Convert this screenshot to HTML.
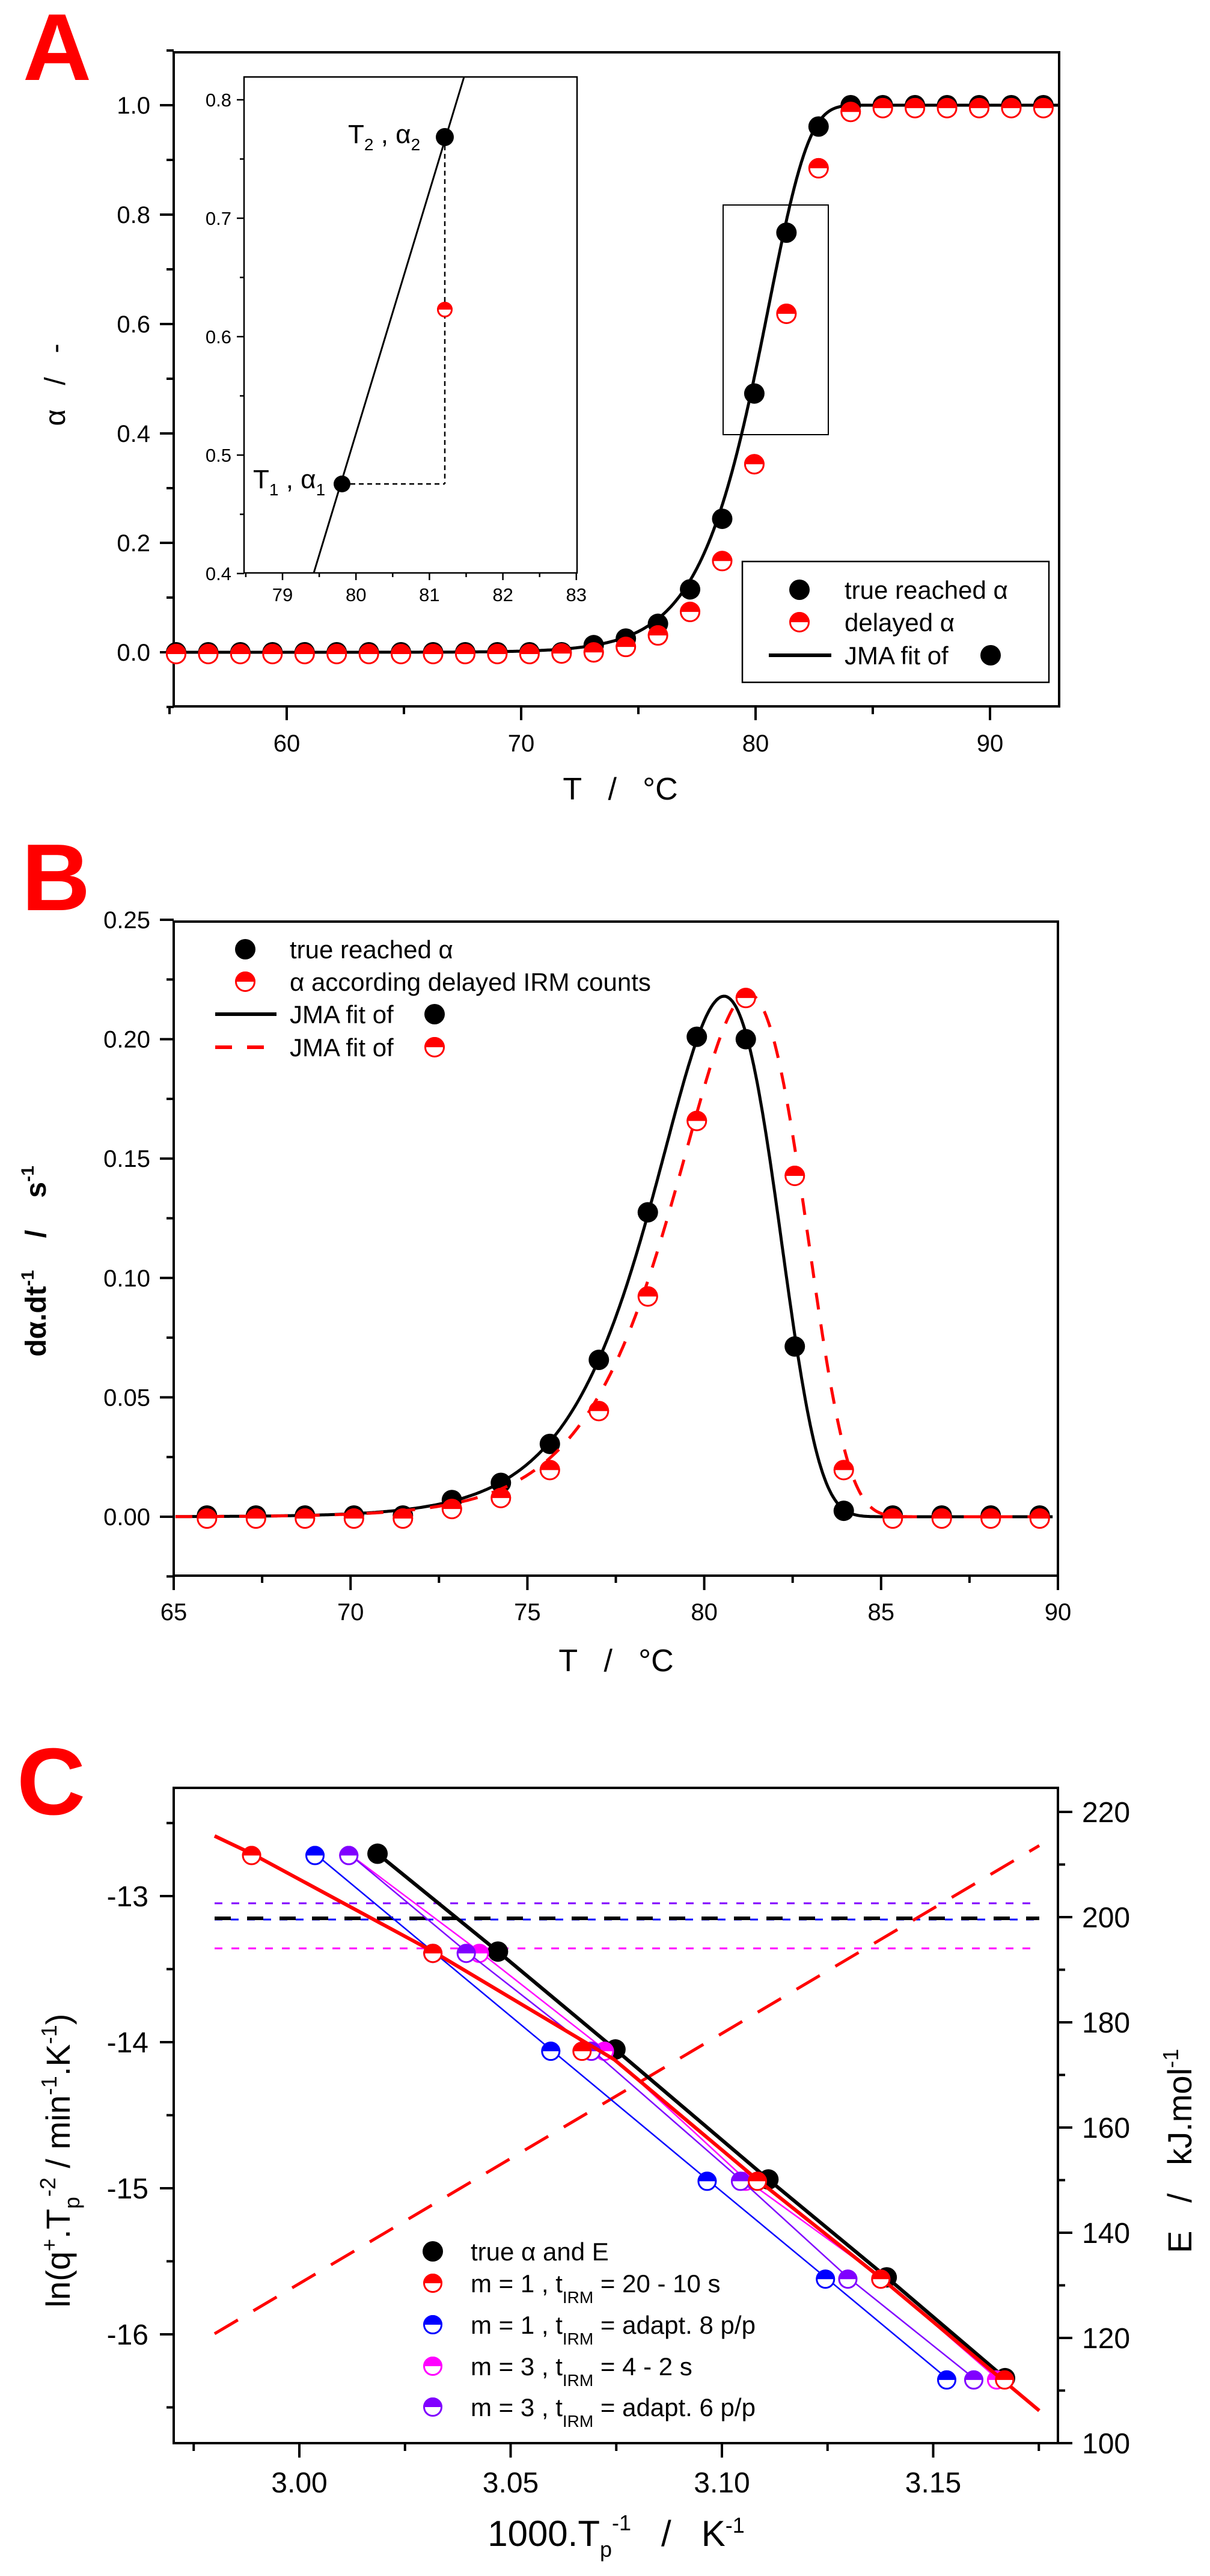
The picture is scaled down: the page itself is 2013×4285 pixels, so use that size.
<!DOCTYPE html>
<html><head><meta charset="utf-8">
<style>
html,body{margin:0;padding:0;background:#fff;}
svg{display:block;font-family:"Liberation Sans",Arial,sans-serif;}
</style></head>
<body>
<svg id="s" width="2013" height="4285" viewBox="0 0 2013 4285" xmlns="http://www.w3.org/2000/svg">
<rect width="2013" height="4285" fill="#fff"/>
<text x="38" y="133" font-size="158" font-weight="bold" fill="#f00">A</text>
<text x="36" y="1514" font-size="158" font-weight="bold" fill="#f00">B</text>
<text x="28" y="3018" font-size="158" font-weight="bold" fill="#f00">C</text>
<g id="g"></g>
</svg>
<script>
var o=[];
function L(x1,y1,x2,y2,c,w,d){o.push('<line x1="'+x1+'" y1="'+y1+'" x2="'+x2+'" y2="'+y2+'" stroke="'+c+'" stroke-width="'+w+'"'+(d?' stroke-dasharray="'+d+'"':'')+'/>');}
function T(x,y,s,fs,a,extra){o.push('<text x="'+x+'" y="'+y+'" font-size="'+fs+'" text-anchor="'+(a||'start')+'" '+(extra||'')+'>'+s+'</text>');}
function P(pts,c,w,d){var s='M'+pts.map(function(p){return p[0].toFixed(1)+','+p[1].toFixed(1)}).join(' L');o.push('<path d="'+s+'" fill="none" stroke="'+c+'" stroke-width="'+w+'" stroke-linejoin="round"'+(d?' stroke-dasharray="'+d+'"':'')+'/>');}
function F(x,y,r,c){o.push('<circle cx="'+x+'" cy="'+y+'" r="'+r+'" fill="'+c+'"/>');}
function H(x,y,r,c){o.push('<circle cx="'+x+'" cy="'+y+'" r="'+(r-1.5)+'" fill="#fff" stroke="'+c+'" stroke-width="3"/>');
 o.push('<path d="M'+(x-r)+','+y+' A'+r+','+r+' 0 0 1 '+(x+r)+','+y+' Z" fill="'+c+'"/>');}
function R(x1,y1,x2,y2,w){o.push('<rect x="'+x1+'" y="'+y1+'" width="'+(x2-x1)+'" height="'+(y2-y1)+'" fill="none" stroke="#000" stroke-width="'+w+'"/>');}

/* ========== PANEL A ========== */
var xa=function(t){return 1257+(t-80)*39;}, ya=function(a){return 1085-a*910;};
R(289,87,1762,1175,4);
for(var v=-0.1;v<=1.101;v+=0.1){var y=ya(v),maj=Math.abs(Math.round(v*10)%2)==0;L(maj?266:277,y,289,y,'#000',4);
 if(maj){T(250,y+14,v.toFixed(1),40,'end');}}
for(var t=55;t<=90;t+=5){var x=xa(t),maj=t%10==0;L(x,1175,x,maj?1198:1188,'#000',4);if(maj)T(x,1250,t,40,'middle');}
T(1032,1330,'T&#160;&#160;&#160;/&#160;&#160;&#160;°C',52,'middle');
T(0,0,'α&#160;&#160;&#160;/&#160;&#160;&#160;-',48,'middle','transform="translate(108,640) rotate(-90)"');
// JMA curve
var pa=[];for(var t=55.1;t<=92.9;t+=0.05){pa.push([xa(t),ya(1-Math.exp(-Math.exp(0.585*(t-80.56))))]);}
var ptsx=[];for(var i=0;i<28;i++)ptsx.push(293+53.44*i);
var redA={12:0.001,13:0.003,14:0.013,15:0.034,16:0.077,17:0.17,18:0.347,19:0.622,20:0.888,21:0.991};
var blkA={13:0.013,14:0.025,15:0.052,16:0.115,17:0.244,18:0.473,19:0.767,20:0.961,21:1.0};
for(var i=0;i<28;i++){var a=blkA[i]!==undefined?blkA[i]:(i<13?0:1.0);F(ptsx[i],ya(a),17,'#000');}
P(pa,'#000',5);
for(var i=0;i<28;i++){var a=redA[i]!==undefined?redA[i]:(i<12?0:0.998);H(ptsx[i],ya(a)+3,17,'#f00');}
// zoom rect
R(1203,341,1378,723,2);
// inset
o.push('<rect x="406" y="128" width="554" height="825" fill="#fff" stroke="#000" stroke-width="2.5"/>');
var yi=function(v){return 166+(0.8-v)*1970;}, xi=function(t){return 470+(t-79)*122.2;};
for(var k=0;k<=8;k++){var v=0.4+k*0.05,y=yi(v);L(k%2==0?394:399,y,406,y,'#000',2.5);if(k%2==0)T(385,y+11,v.toFixed(1),31,'end');}
for(var k=-1;k<=8;k++){var t=79+k*0.5,x=xi(t);if(x<406)continue;L(x,953,x,k%2==0?965:960,'#000',2.5);if(k%2==0)T(x,1000,t,31,'middle');}
L(522,953,772,128,'#000',3);
L(569,805,740,805,'#000',2.5,'8,6');L(740,228,740,805,'#000',2.5,'8,6');
F(569,805,14,'#000');F(740,228,15,'#000');H(740,515,13,'#f00');
T(421,812,'T<tspan font-size="28" dy="12">1</tspan><tspan dy="-12"> , α</tspan><tspan font-size="28" dy="12">1</tspan>',44,'start');
T(579,238,'T<tspan font-size="28" dy="12">2</tspan><tspan dy="-12"> , α</tspan><tspan font-size="28" dy="12">2</tspan>',44,'start');
// legend A
R(1235,934,1745,1135,2.5);
F(1330,981,17,'#000');H(1330,1035,17,'#f00');L(1279,1090,1383,1090,'#000',6);F(1648,1090,17,'#000');
T(1405,996,'true reached α',42);T(1405,1050,'delayed α',42);T(1405,1105,'JMA fit of',42);

/* ========== PANEL B ========== */
var xb=function(t){return 289+(t-65)*58.84;}, yb=function(v){return 2523-v*3972;};
R(289,1533,1760,2621,4);
for(var k=-1;k<=10;k++){var v=k*0.025,y=yb(v),maj=k%2==0&&k>=0;L(maj?266:277,y,289,y,'#000',4);if(maj)T(250,y+14,v.toFixed(2),40,'end');}
for(var k=0;k<=10;k++){var t=65+k*2.5,x=xb(t),maj=k%2==0;L(x,2621,x,maj?2645:2633,'#000',4);if(maj)T(x,2695,t,40,'middle');}
T(1025,2780,'T&#160;&#160;&#160;/&#160;&#160;&#160;°C',52,'middle');
T(0,0,'dα.dt<tspan font-size="30" dy="-20">-1</tspan><tspan dy="20">&#160;&#160;&#160;&#160;/&#160;&#160;&#160;&#160;s</tspan><tspan font-size="30" dy="-20">-1</tspan>',48,'middle','font-weight="bold" transform="translate(76,2098) rotate(-90)"');
var fb=function(t){var u=Math.exp(0.585*(t-80.56));return 0.5926*u*Math.exp(-u);};
var fr=function(t){var u=Math.exp(0.56*(t-81.25));return 0.5953*u*Math.exp(-u);};
var pb=[],pr=[];for(var t=65.05;t<=89.85;t+=0.05){pb.push([xb(t),yb(fb(t))]);pr.push([xb(t),yb(fr(t))]);}
var bB={5:0.007,6:0.0142,7:0.0305,8:0.0657,9:0.1275,10:0.201,11:0.200,12:0.0713,13:0.0025};
var rB={5:0.004,6:0.0086,7:0.0203,8:0.045,9:0.093,10:0.1665,11:0.218,12:0.1435,13:0.0203};
var tb=[];for(var i=0;i<18;i++)tb.push(65.94+1.385*i);
for(var i=0;i<18;i++){var v=bB[i]!==undefined?bB[i]:0.0005;F(xb(tb[i]),yb(v),17,'#000');}
P(pb,'#000',5);
P(pr,'#f00',5,'28,25');
for(var i=0;i<18;i++){var v=rB[i]!==undefined?rB[i]:0.0;H(xb(tb[i]),yb(v)+3,17,'#f00');}
F(408,1579,17,'#000');H(408,1633,17,'#f00');L(358,1687,460,1687,'#000',6);L(358,1742,460,1742,'#f00',6,'28,25');
F(723,1687,17,'#000');H(723,1742,17,'#f00');
T(482,1594,'true reached α',42);T(482,1648,'α according delayed IRM counts',42);T(482,1702,'JMA fit of',42);T(482,1757,'JMA fit of',42);

/* ========== PANEL C ========== */
var xc=function(v){return 498+(v-3)*7030;}, yl=function(v){return 3154+(-13-v)*243;}, yr=function(e){return 4064-(e-100)*8.75;};
R(289,2974,1760,4064,4);
for(var k=0;k<=8;k++){var v=-12.5-k*0.5,y=yl(v),maj=k%2==1;if(y>4064)continue;L(maj?266:277,y,289,y,'#000',4);if(maj)T(247,y+17,String(v),48,'end');}
for(var e=100;e<=220;e+=10){var y=yr(e),maj=e%20==0;L(1760,y,maj?1784:1772,y,'#000',4);if(maj)T(1800,y+17,e,48,'start');}
for(var k=-1;k<=7;k++){var v=3+k*0.025,x=xc(v),maj=k%2==0;L(x,4064,x,maj?4088:4077,'#000',4);if(maj)T(x,4146,v.toFixed(2),48,'middle');}
T(1025,4235,'1000.T<tspan font-size="36" dy="18">p</tspan><tspan font-size="36" dy="-44">-1</tspan><tspan dy="26">&#160;&#160;&#160;/&#160;&#160;&#160;K</tspan><tspan font-size="36" dy="-22">-1</tspan>',60,'middle');
T(0,0,'ln(q<tspan font-size="36" dy="-22">+</tspan><tspan dy="22">.T</tspan><tspan font-size="36" dy="16">p</tspan><tspan font-size="36" dy="-40">-2</tspan><tspan dy="24"> / min</tspan><tspan font-size="36" dy="-22">-1</tspan><tspan dy="22">.K</tspan><tspan font-size="36" dy="-22">-1</tspan><tspan dy="22">)</tspan>',56,'middle','transform="translate(116,3594) rotate(-90)"');
T(0,0,'E&#160;&#160;&#160;/&#160;&#160;&#160;kJ.mol<tspan font-size="36" dy="-22">-1</tspan>',56,'middle','transform="translate(1982,3578) rotate(-90)"');
// horizontal dashed E lines
L(357,3166,1729,3166,'#8000ff',3,'13,15');
L(357,3193,1729,3193,'#0000ff',3,'13,14');
L(357,3191,1729,3191,'#000',6,'27,27');
L(357,3241,1729,3241,'#ff00ff',3,'13,15');
L(357,3882,1729,3070,'#f00',5,'45,30');
var Y=[-12.71,-13.38,-14.05,-14.94,-15.61,-16.30];
var S={
 black:[3.0185,3.047,3.0748,3.111,3.139,3.167],
 blue:[3.0037,3.0316,3.0595,3.0965,3.1245,3.1532],
 magenta:[3.0117,3.0426,3.0722,3.1056,3.1376,3.165],
 purple:[3.0117,3.0395,3.0691,3.1044,3.1298,3.1596],
 red:[2.9887,3.0316,3.0669,3.1084,3.1376,3.1669]};
var col={black:'#000',blue:'#0000ff',magenta:'#ff00ff',purple:'#8000ff',red:'#ff0000'};
// black
P(S.black.map(function(v,i){return [xc(v),yl(Y[i])]}),'#000',6);
S.black.forEach(function(v,i){F(xc(v),yl(Y[i]),17,'#000');});
['blue','magenta','purple'].forEach(function(n){
 P(S[n].map(function(v,i){return [xc(v),yl(Y[i])]}),col[n],2.5);
 S[n].forEach(function(v,i){H(xc(v),yl(Y[i])+3,16,col[n]);});
});
P([[357,3054],[418,3083],[720,3246],[1022,3426],[1259,3625],[1465,3789],[1729,4010]],'#f00',6);
S.red.forEach(function(v,i){H(xc(v),yl(Y[i])+3,16,'#f00');});
// legend C
F(720,3745,17,'#000');H(720,3798,16,'#f00');H(720,3867,16,'#0000ff');H(720,3936,16,'#ff00ff');H(720,4004,16,'#8000ff');
T(783,3760,'true α and E',42);
var sub='t<tspan font-size="28" dy="18">IRM</tspan><tspan dy="-18"> = ';
T(783,3813,'m = 1 , '+sub+'20 - 10 s</tspan>',42);
T(783,3882,'m = 1 , '+sub+'adapt. 8 p/p</tspan>',42);
T(783,3951,'m = 3 , '+sub+'4 - 2 s</tspan>',42);
T(783,4019,'m = 3 , '+sub+'adapt. 6 p/p</tspan>',42);

document.getElementById('g').innerHTML=o.join('');
</script>
</body></html>
